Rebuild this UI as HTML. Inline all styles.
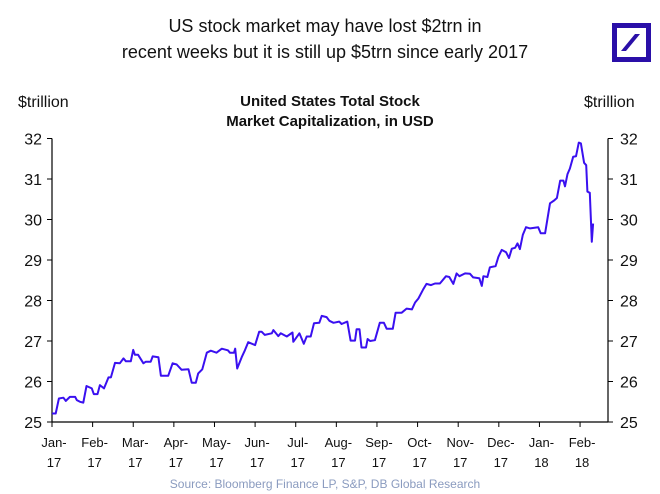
<!DOCTYPE html>
<html><head><meta charset="utf-8"><style>
body{margin:0;background:#fff;}
svg{display:block;font-family:"Liberation Sans",Arial,sans-serif;}
</style></head><body>
<svg width="660" height="494">
<text x="325" y="32" font-size="18" text-anchor="middle" fill="#111">US stock market may have lost $2trn in</text>
<text x="325" y="58" font-size="18" text-anchor="middle" fill="#111">recent weeks but it is still up $5trn since early 2017</text>
<g>
<rect x="614.5" y="25.5" width="34" height="34" fill="#fff" stroke="#2a0fa8" stroke-width="5"/>
<polygon points="621,51 626,51 640,34 635,34" fill="#2a0fa8"/>
</g>
<text x="18" y="107" font-size="16" fill="#111">$trillion</text>
<text x="584" y="107" font-size="16" fill="#111">$trillion</text>
<text x="330" y="106" font-size="15" font-weight="bold" text-anchor="middle" fill="#111">United States Total Stock</text>
<text x="330" y="126" font-size="15" font-weight="bold" text-anchor="middle" fill="#111">Market Capitalization, in USD</text>
<g id="axes"></g>
<path id="line" fill="none" stroke="#3a10f0" stroke-width="2" stroke-linejoin="round"/>
<text x="325" y="488" font-size="12" text-anchor="middle" fill="#8a9bbf">Source: Bloomberg Finance LP, S&amp;P, DB Global Research</text>
</svg>
<script>
const monthLabels=["Jan-","Feb-","Mar-","Apr-","May-","Jun-","Jul-","Aug-","Sep-","Oct-","Nov-","Dec-","Jan-","Feb-"];
const yearLabels=["17","17","17","17","17","17","17","17","17","17","17","17","18","18"];
const yTicks=[25,26,27,28,29,30,31,32];
const months=[0,.09,.17,.28,.34,.44,.57,.61,.69,.77,.85,.98,1.03,1.12,1.18,1.28,1.39,1.45,1.55,1.67,1.76,1.82,1.94,2.0,2.04,2.12,2.25,2.31,2.43,2.48,2.62,2.68,2.86,2.97,3.07,3.19,3.36,3.44,3.54,3.6,3.7,3.81,3.91,4.05,4.18,4.33,4.38,4.48,4.51,4.56,4.67,4.75,4.83,5.0,5.1,5.16,5.24,5.41,5.45,5.57,5.63,5.78,5.92,5.94,6.09,6.2,6.27,6.37,6.45,6.58,6.64,6.76,6.83,6.93,7.07,7.13,7.27,7.35,7.46,7.5,7.57,7.62,7.73,7.77,7.83,7.95,8.07,8.17,8.24,8.39,8.46,8.61,8.73,8.86,8.94,9.02,9.14,9.22,9.33,9.43,9.55,9.7,9.78,9.88,9.96,10.03,10.17,10.29,10.37,10.52,10.58,10.62,10.72,10.78,10.92,10.99,11.07,11.18,11.25,11.32,11.4,11.46,11.52,11.59,11.67,11.77,11.97,12.03,12.14,12.26,12.36,12.43,12.51,12.59,12.63,12.69,12.75,12.83,12.9,12.97,13.02,13.1,13.15,13.18,13.24,13.29,13.32];
const values=[25.21,25.21,25.58,25.6,25.52,25.62,25.62,25.54,25.5,25.48,25.89,25.83,25.69,25.69,25.91,25.83,26.1,26.1,26.46,26.45,26.57,26.5,26.5,26.78,26.66,26.66,26.45,26.49,26.49,26.62,26.6,26.14,26.14,26.45,26.42,26.29,26.3,25.97,25.97,26.2,26.3,26.71,26.76,26.71,26.81,26.77,26.71,26.71,26.81,26.32,26.6,26.77,26.97,26.9,27.23,27.23,27.15,27.19,27.27,27.12,27.19,27.11,27.21,26.98,27.19,26.93,27.11,27.11,27.44,27.45,27.62,27.59,27.5,27.45,27.48,27.42,27.48,27.01,27.01,27.29,27.29,26.84,26.84,27.05,27.0,27.02,27.45,27.45,27.3,27.3,27.7,27.7,27.8,27.78,27.95,28.05,28.28,28.41,28.38,28.42,28.42,28.6,28.58,28.41,28.67,28.6,28.67,28.66,28.57,28.55,28.36,28.6,28.58,28.82,28.85,29.08,29.25,29.19,29.05,29.28,29.3,29.41,29.27,29.62,29.81,29.78,29.81,29.66,29.66,30.4,30.47,30.53,30.96,30.96,30.82,31.12,31.26,31.55,31.56,31.9,31.88,31.4,31.34,30.69,30.66,29.45,29.9];
const NS="http://www.w3.org/2000/svg";
const X0=52,XR=608,MW=40.62,Y0=422,UH=40.5;
function xs(m){return X0+m*MW;}
function ys(v){return Y0-(v-25)*UH;}
const g=document.getElementById('axes');
function mk(t,a){const e=document.createElementNS(NS,t);for(const k in a)e.setAttribute(k,a[k]);g.appendChild(e);return e;}
let e=mk('line',{x1:X0,y1:ys(32),x2:X0,y2:Y0,stroke:'#000','stroke-width':1.2});


e=mk('line',{x1:XR,y1:ys(32),x2:XR,y2:Y0,stroke:'#000','stroke-width':1.2});


e=mk('line',{x1:X0,y1:Y0,x2:XR,y2:Y0,stroke:'#000','stroke-width':1.2});


yTicks.forEach(v=>{
 const y=ys(v);
 mk('line',{x1:X0-5,y1:y,x2:X0,y2:y,stroke:'#000'});
 mk('line',{x1:XR,y1:y,x2:XR+5,y2:y,stroke:'#000'});
 let t=mk('text',{x:X0-10,y:y+6,'font-size':16,'text-anchor':'end',fill:'#111'});t.textContent=v;
 
 
 t=mk('text',{x:XR+12,y:y+6,'font-size':16,fill:'#111'});t.textContent=v;
 
 
});
monthLabels.forEach((m,i)=>{
 const x=xs(i);
 mk('line',{x1:x,y1:Y0,x2:x,y2:Y0+5,stroke:'#000'});
 let t=mk('text',{x:x+2,y:447,'font-size':13,'text-anchor':'middle',fill:'#111'});t.textContent=m;
 
 
 t=mk('text',{x:x+2,y:467,'font-size':13,'text-anchor':'middle',fill:'#111'});t.textContent=yearLabels[i];
 
 
});
document.getElementById('line').setAttribute('d',months.map((m,i)=>(i?'L':'M')+xs(m).toFixed(1)+','+ys(values[i]).toFixed(1)).join(''));
</script>
</body></html>
